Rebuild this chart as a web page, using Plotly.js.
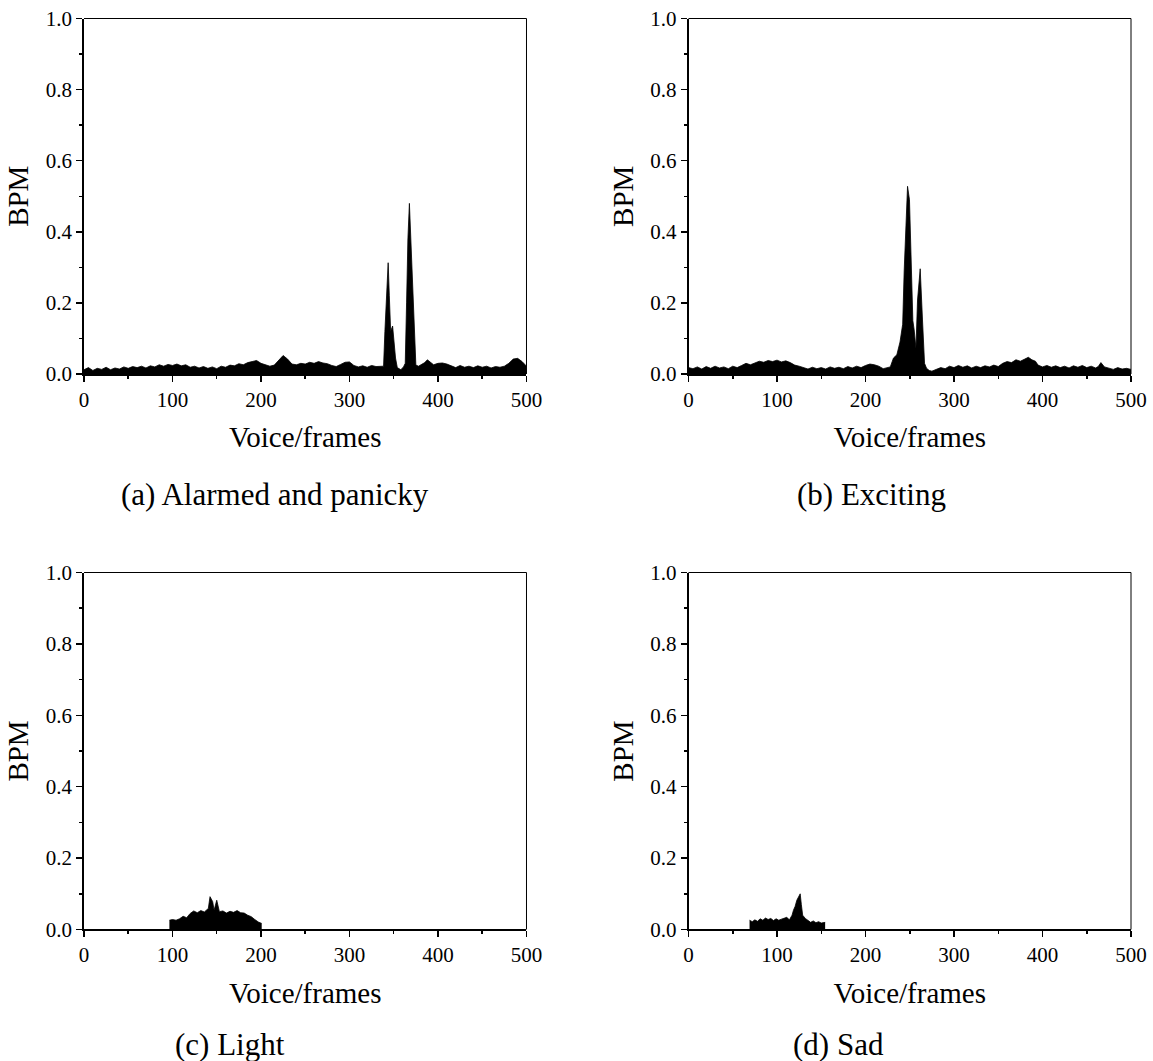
<!DOCTYPE html>
<html>
<head>
<meta charset="utf-8">
<script src="https://cdn.plot.ly/plotly-3.0.1.min.js"></script>
<style>
html,body{margin:0;padding:0;background:#fff;}
#chart{width:1153px;height:1061px;}
</style>
</head>
<body>
<div id="chart"></div>
<script>
// (a) Alarmed and panicky
const framesA = [0,5,10,15,20,25,30,35,40,45,50,55,60,65,70,75,80,85,90,95,100,105,110,115,120,125,130,135,140,145,150,155,160,165,170,175,180,185,190,195,200,205,210,215,220,225,230,235,240,245,250,255,260,265,270,275,280,285,290,295,300,305,310,315,320,325,330,335,338.5,340,341.5,343.7,345,346.5,348.7,350,352,354,356,358,361,363,364.5,366,367.7,369,370.5,372,373.5,375,378,381,385,388,392,395,400,405,410,415,420,425,430,435,440,445,450,455,460,465,470,475,480,485,490,495,500];
const bpmA = [0.012,0.018,0.010,0.016,0.013,0.019,0.012,0.017,0.014,0.020,0.016,0.021,0.018,0.022,0.017,0.023,0.020,0.026,0.022,0.027,0.024,0.028,0.023,0.026,0.019,0.022,0.017,0.021,0.016,0.020,0.015,0.022,0.019,0.025,0.023,0.029,0.026,0.032,0.035,0.038,0.030,0.026,0.022,0.025,0.040,0.052,0.042,0.028,0.026,0.030,0.028,0.033,0.030,0.035,0.031,0.029,0.024,0.021,0.027,0.033,0.034,0.024,0.020,0.023,0.019,0.024,0.021,0.022,0.022,0.120,0.220,0.313,0.220,0.120,0.135,0.100,0.045,0.018,0.014,0.012,0.020,0.030,0.200,0.380,0.480,0.400,0.300,0.180,0.080,0.025,0.022,0.026,0.032,0.040,0.032,0.026,0.030,0.031,0.028,0.022,0.018,0.024,0.019,0.022,0.018,0.023,0.019,0.022,0.017,0.021,0.019,0.022,0.030,0.042,0.044,0.035,0.022];

// (b) Exciting
const framesB = [0,5,10,15,20,25,30,35,40,45,50,55,60,65,70,75,80,85,90,95,100,105,110,115,120,125,130,135,140,145,150,155,160,165,170,175,180,185,190,195,200,205,210,215,220,225,228,231.6,235.4,239,242,243.7,246,247.5,249.7,251.6,253.5,255,257,258.8,261.8,264.4,266.7,269,272,275,280,285,290,295,300,305,310,315,320,325,330,335,340,345,350,355,360,365,370,375,380,384,388,392,395,400,405,410,415,420,425,430,435,440,445,450,455,460,463,466,470,475,480,485,490,495,500];
const bpmB = [0.018,0.015,0.020,0.014,0.021,0.016,0.022,0.017,0.020,0.015,0.022,0.018,0.024,0.030,0.026,0.032,0.036,0.033,0.038,0.035,0.039,0.034,0.037,0.032,0.025,0.022,0.017,0.014,0.019,0.015,0.018,0.014,0.020,0.016,0.019,0.015,0.021,0.017,0.022,0.018,0.024,0.028,0.026,0.022,0.015,0.018,0.020,0.045,0.054,0.090,0.140,0.290,0.430,0.528,0.490,0.290,0.150,0.124,0.072,0.208,0.296,0.152,0.030,0.016,0.010,0.008,0.012,0.018,0.015,0.022,0.018,0.024,0.019,0.023,0.017,0.022,0.018,0.023,0.020,0.025,0.021,0.030,0.035,0.032,0.040,0.036,0.042,0.047,0.040,0.036,0.025,0.020,0.024,0.019,0.023,0.018,0.022,0.017,0.023,0.019,0.024,0.018,0.022,0.017,0.021,0.032,0.020,0.016,0.013,0.018,0.014,0.016,0.013,0.015];

// (c) Light
const framesC = [96.5,100,104,108,112,116,120,124,128,132,136,140.5,142.4,145.4,147,150,153,157,161,165,169,173,177,181,185,189,193,197,200.8];
const bpmC = [0.026,0.028,0.026,0.030,0.037,0.033,0.045,0.052,0.047,0.053,0.049,0.059,0.092,0.078,0.054,0.082,0.050,0.052,0.046,0.051,0.048,0.053,0.047,0.046,0.040,0.036,0.028,0.021,0.017];

// (d) Sad
const framesD = [69,72,75,78,81,84,87,90,93,96,99,102,105,108,111,114,117,118.6,120.5,122.4,124.5,126.2,127.5,129,132,135,138,141,144,147,150,154.4];
const bpmD = [0.026,0.022,0.027,0.023,0.030,0.026,0.032,0.028,0.031,0.025,0.030,0.026,0.029,0.031,0.034,0.027,0.040,0.054,0.065,0.082,0.090,0.100,0.070,0.040,0.031,0.025,0.020,0.024,0.019,0.022,0.018,0.020];

const captions = ["(a) Alarmed and panicky", "(b) Exciting", "(c) Light", "(d) Sad"];
const xTitle = "Voice/frames";
const yTitle = "BPM";

const FONT = "Liberation Serif";
const series = [[framesA,bpmA],[framesB,bpmB],[framesC,bpmC],[framesD,bpmD]];
const names = ["","2","3","4"];

const data = series.map((s,i)=>({
  type:'scatter', mode:'lines', x:s[0], y:s[1],
  xaxis:'x'+names[i], yaxis:'y'+names[i],
  fill:'tozeroy', fillcolor:'#000',
  line:{color:'#000', width:0.8}, hoverinfo:'skip', showlegend:false
}));

const xDom = [[0.07285,0.45663],[0.59714,0.98092],[0.07285,0.45663],[0.59714,0.98092]];
const yDom = [[0.64750,0.98256],[0.64750,0.98256],[0.12394,0.46041],[0.12394,0.46041]];

const layout = {
  width:1153, height:1061,
  margin:{l:0,r:0,t:0,b:0},
  paper_bgcolor:'#fff', plot_bgcolor:'#fff',
  font:{family:FONT, color:'#000'},
  showlegend:false,
  shapes:[], annotations:[]
};

for (let i=0;i<4;i++){
  const xa = {
    domain:xDom[i], anchor:'y'+names[i], range:[0,500],
    tick0:0, dtick:100, ticks:'outside', ticklen:6, tickwidth:1.5, tickcolor:'#000',
    minor:{dtick:50, ticks:'outside', ticklen:3, tickwidth:1.5, tickcolor:'#000'},
    showline:true, linewidth:1.8, linecolor:'#000', showgrid:false, zeroline:false,
    tickfont:{family:FONT, size:21, color:'#000'},
    title:{text:xTitle, font:{family:FONT, size:29, color:'#000'}, standoff:16},
    automargin:false, fixedrange:true
  };
  const ya = {
    domain:yDom[i], anchor:'x'+names[i], range:[0,1],
    tick0:0, dtick:0.2, tickformat:'.1f', ticks:'outside', ticklen:6, tickwidth:1.5, tickcolor:'#000',
    minor:{dtick:0.1, ticks:'outside', ticklen:3, tickwidth:1.5, tickcolor:'#000'},
    showline:true, linewidth:1.8, linecolor:'#000', showgrid:false, zeroline:false,
    tickfont:{family:FONT, size:21, color:'#000'},
    title:{text:yTitle, font:{family:FONT, size:29, color:'#000'}, standoff:8},
    automargin:false, fixedrange:true
  };
  layout['xaxis'+names[i]] = xa;
  layout['yaxis'+names[i]] = ya;
  layout.shapes.push({type:'line', xref:'x'+names[i]+' domain', yref:'y'+names[i]+' domain', x0:0, x1:1, y0:1, y1:1, line:{color:'#000', width:1}});
  layout.shapes.push({type:'line', xref:'x'+names[i]+' domain', yref:'y'+names[i]+' domain', x0:1, x1:1, y0:0, y1:1, line:{color:'#000', width:1}});
}

const capX = [0.2385, 0.756, 0.1995, 0.727];
const capY = [0.5344, 0.5344, 0.0151, 0.0151];
for (let i=0;i<4;i++){
  layout.annotations.push({text:captions[i], xref:'paper', yref:'paper', x:capX[i], y:capY[i],
    xanchor:'center', yanchor:'middle', showarrow:false, font:{family:FONT, size:31, color:'#000'}});
}

Plotly.newPlot('chart', data, layout, {staticPlot:true, displayModeBar:false});
</script>
</body>
</html>
